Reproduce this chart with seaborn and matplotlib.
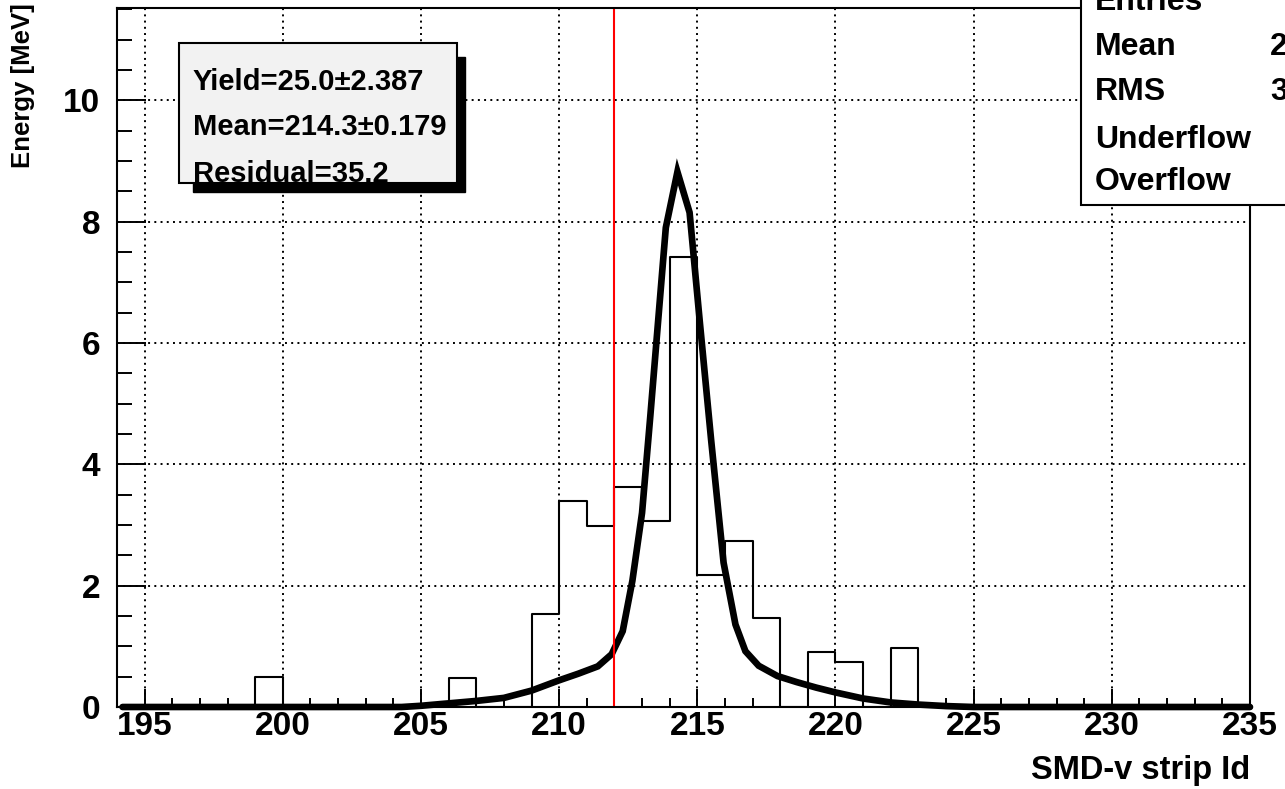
import pandas as pd
import matplotlib
matplotlib.use('Agg')
import matplotlib.pyplot as plt
from matplotlib.patches import Rectangle
from matplotlib.ticker import MultipleLocator
import seaborn as sns

# energy per SMD strip (lower edge of each 1-strip bin), empty strips left out
strip_lo = [199, 206, 209, 210, 211, 212, 213, 214, 215, 216, 217, 219, 220, 222]
energy = [0.49, 0.47, 1.53, 3.39, 2.98, 3.62, 3.06, 7.42, 2.18, 2.74, 1.47, 0.90, 0.74, 0.98]
bin_edges = list(range(194, 236))

# fitted peak
fit_x = [194.2, 204.3, 205.0, 206.0, 207.0, 208.0, 209.0, 210.0, 210.7, 211.4, 211.9,
         212.3, 212.65, 213.0, 213.3, 213.86, 214.28, 214.72, 215.1, 215.5, 215.95,
         216.38, 216.74, 217.22, 217.9, 218.6, 219.3, 220.0, 221.0, 222.0, 223.0,
         224.0, 225.0, 235.0]
fit_y = [0.0, 0.0, 0.02, 0.06, 0.10, 0.15, 0.27, 0.44, 0.55, 0.67, 0.87,
         1.25, 2.08, 3.2, 4.8, 7.9, 8.82, 8.15, 6.3, 4.4, 2.38,
         1.36, 0.92, 0.68, 0.51, 0.41, 0.32, 0.24, 0.14, 0.075, 0.04,
         0.015, 0.0, 0.0]

cut_strip = 212

fit_text = ['Yield=25.0\u00b12.387', 'Mean=214.3\u00b10.179', 'Residual=35.2']
stat_names = ['Entries', 'Mean', 'RMS', 'Underflow', 'Overflow']
stat_values = ['41', '213.9', '3.617', '0', '0']

sns.set_style('ticks')
plt.rcParams['font.family'] = ['Liberation Sans', 'DejaVu Sans']
plt.rcParams['font.weight'] = 'bold'
plt.rcParams['text.color'] = 'black'
plt.rcParams['xtick.color'] = 'black'
plt.rcParams['ytick.color'] = 'black'
plt.rcParams['axes.labelcolor'] = 'black'

W, H = 1285, 789
fig = plt.figure(figsize=(W / 100, H / 100), dpi=100)
ax = fig.add_axes([117 / W, 1 - 707 / H, 1133 / W, 699 / H])

df_h = pd.DataFrame({'strip': [s + 0.5 for s in strip_lo], 'energy': energy})
sns.histplot(data=df_h, x='strip', weights='energy', bins=bin_edges, element='step',
             fill=False, color='black', linewidth=1.5, ax=ax)

sns.lineplot(x=fit_x, y=fit_y, sort=False, color='black', linewidth=4.8, ax=ax)
ax.lines[-1].set_clip_on(False)
ax.lines[-1].set_solid_joinstyle('miter')

ax.axvline(cut_strip, color='red', linewidth=1.5)

ax.set_xlim(194, 235)
ax.set_ylim(0, 11.52)
ax.xaxis.set_major_locator(MultipleLocator(5))
ax.xaxis.set_minor_locator(MultipleLocator(1))
ax.yaxis.set_major_locator(MultipleLocator(2))
ax.yaxis.set_minor_locator(MultipleLocator(0.5))
ax.grid(True, which='major', color='black', linestyle=(0, (1, 2.2)), linewidth=1.4)

ax.tick_params(axis='x', which='major', direction='in', length=13, width=1.4,
               labelsize=24, pad=3, colors='black')
ax.tick_params(axis='x', which='minor', direction='in', length=6.5, width=1.4, colors='black')
ax.tick_params(axis='y', which='major', direction='in', length=21, width=1.4,
               labelsize=24, pad=12, colors='black')
ax.tick_params(axis='y', which='minor', direction='in', length=10.8, width=1.4, colors='black')
for sp in ax.spines.values():
    sp.set_linewidth(1.5)
    sp.set_color('black')
ax.set_xlabel('')
ax.set_ylabel('')

fig.text(1250 / W, 1 - 755 / H, 'SMD-v strip Id', ha='right', va='top', fontsize=23.5,
         color='black')
fig.text(23 / W, 1 - 3 / H, 'Energy [MeV]', rotation=90, ha='center', va='top', fontsize=18.5,
         color='black')

# fit result box with shadow
fig.add_artist(Rectangle((193 / W, 1 - 192 / H), 272 / W, 135 / H, transform=fig.transFigure,
                         facecolor='black', edgecolor='black', zorder=2))
fig.add_artist(Rectangle((179 / W, 1 - 183 / H), 278 / W, 140 / H, transform=fig.transFigure,
                         facecolor='#f2f2f2', edgecolor='black', linewidth=1.5, zorder=3))
for txt, yb in zip(fit_text, [90, 135, 182]):
    fig.text(193 / W, 1 - yb / H, txt, ha='left', va='baseline', fontsize=21, color='black',
             zorder=4)

# stats box, cut by the canvas edge like the original
fig.add_artist(Rectangle((1081 / W, 1 - 205 / H), 300 / W, 260 / H, transform=fig.transFigure,
                         facecolor='white', edgecolor='black', linewidth=1.5, zorder=3))
for name, val, yb in zip(stat_names, stat_values, [10, 55, 100, 148, 190]):
    fig.text(1095 / W, 1 - yb / H, name, ha='left', va='baseline', fontsize=23, color='black',
             zorder=4)
    fig.text(1350 / W, 1 - yb / H, val, ha='right', va='baseline', fontsize=23, color='black',
             zorder=4)

fig.savefig('out.png', dpi=100)
